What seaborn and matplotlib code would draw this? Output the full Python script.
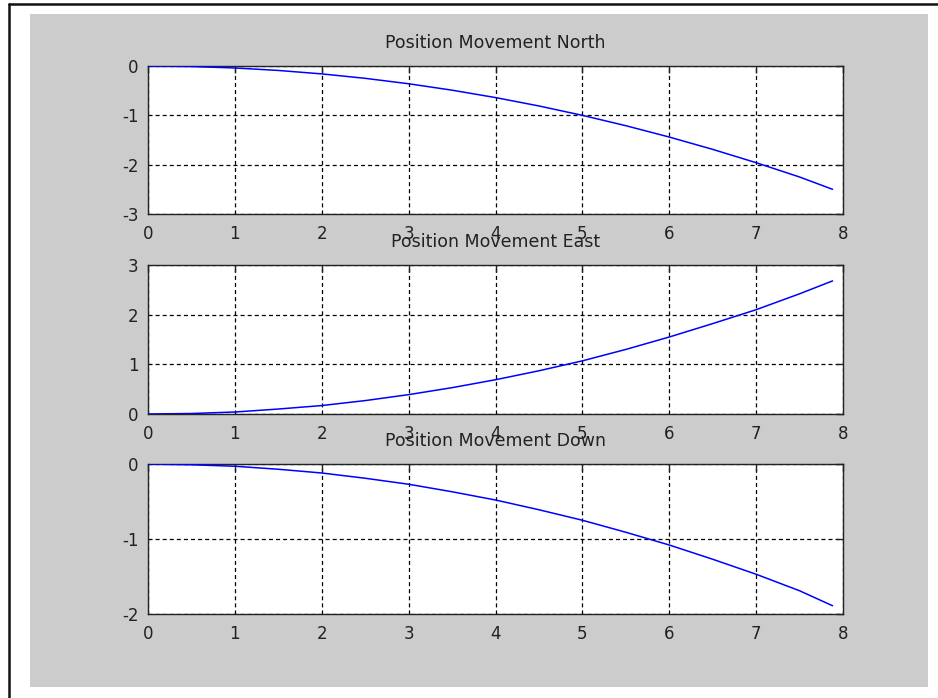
import matplotlib
matplotlib.use("Agg")
import matplotlib.pyplot as plt
from matplotlib.patches import Rectangle
from matplotlib.lines import Line2D
import pandas as pd
import seaborn as sns

# Time samples (s) and position change (m) in each direction
time_s = [0.0, 0.5, 1.0, 1.5, 2.0, 2.5, 3.0, 3.5, 4.0, 4.5, 5.0, 5.5,
          6.0, 6.5, 7.0, 7.5, 7.88]
north = [0.0, -0.01, -0.04, -0.09, -0.16, -0.25, -0.36, -0.49, -0.64,
         -0.81, -1.00, -1.21, -1.44, -1.69, -1.96, -2.25, -2.50]
east = [0.0, 0.01, 0.04, 0.10, 0.17, 0.27, 0.39, 0.53, 0.69, 0.87,
        1.07, 1.30, 1.55, 1.82, 2.10, 2.42, 2.68]
down = [0.0, -0.01, -0.03, -0.07, -0.12, -0.19, -0.27, -0.37, -0.48,
        -0.61, -0.75, -0.91, -1.08, -1.27, -1.47, -1.69, -1.89]

titles = ["Position Movement North", "Position Movement East",
          "Position Movement Down"]
series = [north, east, down]
y_limits = [(-3, 0), (0, 3), (-2, 0)]
y_ticks = [[-3, -2, -1, 0], [0, 1, 2, 3], [-2, -1, 0]]
x_ticks = list(range(0, 9))

sns.set_style("white")
plt.rcParams["font.family"] = ["DejaVu Sans"]
plt.rcParams["lines.scale_dashes"] = False
plt.rcParams["axes.unicode_minus"] = False

W, H = 938, 698
fig = plt.figure(figsize=(W / 100, H / 100), dpi=100, facecolor="white")

# grey figure panel and the black frame line on top/left
fig.patches.append(Rectangle((30 / W, 1 - 687 / H), 898 / W, 673 / H,
                             transform=fig.transFigure, facecolor="#cccccc",
                             edgecolor="none", zorder=-5))
fig.lines.append(Line2D([9 / W, 1.0], [1 - 4 / H, 1 - 4 / H],
                        transform=fig.transFigure, color="#111111", lw=1.8))
fig.lines.append(Line2D([9 / W, 9 / W], [0.0, 1 - 4 / H],
                        transform=fig.transFigure, color="#111111", lw=1.8))

boxes = [(66, 214), (265, 414), (464, 614)]
left, right = 148, 843

for (top, bottom), title, vals, ylim, yt in zip(boxes, titles, series,
                                                y_limits, y_ticks):
    ax = fig.add_axes([left / W, 1 - bottom / H, (right - left) / W,
                       (bottom - top) / H])
    ax.set_zorder(1)
    df = pd.DataFrame({"t": time_s, "v": vals})
    sns.lineplot(data=df, x="t", y="v", ax=ax, color="#0000ff",
                 linewidth=1.1, zorder=3)
    ax.set_xlim(0, 8)
    ax.set_ylim(*ylim)
    ax.set_xticks(x_ticks)
    ax.set_yticks(yt)
    ax.set_xlabel("")
    ax.set_ylabel("")
    ax.set_facecolor("white")
    ax.grid(True, color="black", linestyle=(0, (2.9, 2.2)), linewidth=0.9)
    for sp in ax.spines.values():
        sp.set_visible(True)
        sp.set_color("#222222")
        sp.set_linewidth(1.0)
    ax.tick_params(axis="both", direction="in", length=5, width=1,
                   colors="#222222", labelsize=12, labelcolor="#222222",
                   top=True, right=True)
    ax.tick_params(axis="x", pad=8)
    ax.tick_params(axis="y", pad=7)
    ax.set_title(title, fontsize=12.5, color="#222222", pad=13)

fig.savefig("out.png", dpi=100, facecolor="white")
